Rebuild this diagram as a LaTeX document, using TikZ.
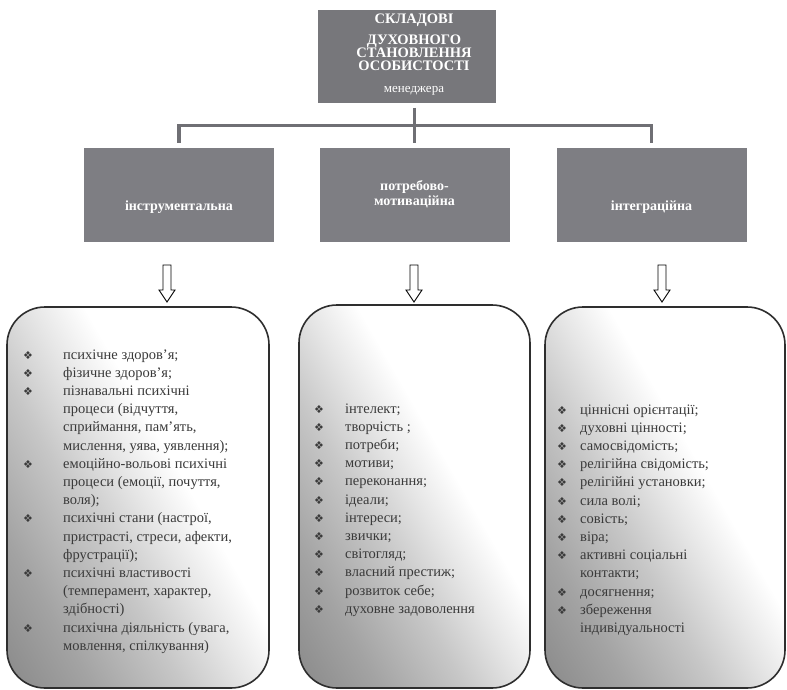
\documentclass[tikz,border=0pt]{standalone}
\usepackage{fontspec}
\setmainfont{Liberation Serif}
\newfontfamily\symfont{DejaVu Sans}
\usetikzlibrary{calc}
\definecolor{boxgray}{HTML}{7E7E83}
\definecolor{topgray}{HTML}{77777B}
\definecolor{conngray}{HTML}{6F6F74}
\definecolor{txtgray}{HTML}{3A3A3A}
\definecolor{bordergray}{HTML}{2E2E2E}
\pgfdeclarehorizontalshading{bshade}{100bp}{color(0bp)=(black!48); color(16bp)=(black!46); color(28bp)=(black!36); color(41bp)=(black!22); color(50bp)=(black!10); color(58bp)=(white); color(100bp)=(white)}
\newcommand{\bul}{{\symfont\fontsize{11}{11}\selectfont ❖}}
\newcommand{\itm}{\bul&}
\begin{document}
\begin{tikzpicture}[x=1pt,y=-1pt,
  topbox/.style={fill=topgray, draw=none, inner sep=0},
  midbox/.style={fill=boxgray, draw=none, inner sep=0, minimum width=190pt, minimum height=94pt},
  whitetxt/.style={text=white, inner sep=0, font=\fontsize{14.5}{13}\selectfont\bfseries, align=center},
  conn/.style={draw=conngray, line width=3.2pt},
  hollow/.style={draw=black, fill=white, line width=0.9pt, line join=miter},
  bbox/.style={draw=bordergray, line width=1.6pt, rounded corners=38pt, shade, shading=bshade, shading angle=30, inner sep=0},
  listtxt/.style={text=txtgray, inner sep=0, anchor=base west, font=\fontsize{14.5}{18.2}\selectfont}
]
\useasboundingbox (0,0) rectangle (787,690);
\fill[white] (0,0) rectangle (787,690);

% top box
\node[topbox, minimum width=178pt, minimum height=93pt] (top) at (407,56.5) {};
\node[whitetxt, anchor=base] (t1) at (414,24) {СКЛАДОВІ};
\node[whitetxt] (t2) at (414,53) {ДУХОВНОГО\\СТАНОВЛЕННЯ\\ОСОБИСТОСТІ};
\node[whitetxt, anchor=base, font=\fontsize{13}{13}\selectfont] (t5) at (414,93) {менеджера};

% middle boxes
\node[midbox] (m1) at (179,195) {};
\node[midbox] (m2) at (414.5,195) {};
\node[midbox] (m3) at (651.5,195) {};
\node[whitetxt, font=\fontsize{14}{15}\selectfont\bfseries] (m1t) at ($(m1.center)+(0,12)$) {інструментальна};
\node[whitetxt, font=\fontsize{14}{15}\selectfont\bfseries] (m2t) at ($(m2.center)+(0,-1)$) {потребово-\\мотиваційна};
\node[whitetxt, font=\fontsize{14}{15}\selectfont\bfseries] (m3t) at ($(m3.center)+(0,12)$) {інтеграційна};

% connectors
\draw[conn] ($(m2.north)+(0,-40)$) -- ($(m2.north)+(0,-5)$);
\draw[conn] ($(m1.north)+(0,-5)$) -- ($(m1.north)+(0,-22)$) -- ($(m3.north)+(0,-22)$) -- ($(m3.north)+(0,-5)$);

% bottom boxes
\node[bbox, minimum width=262pt, minimum height=381pt] (b1) at (138,497.5) {};
\node[bbox, minimum width=231pt, minimum height=383pt] (b2) at (414.5,496.5) {};
\node[bbox, minimum width=240pt, minimum height=381pt] (b3) at (665,497.5) {};

% hollow arrows
\coordinate (a1) at (167,265);
\coordinate (a2) at (414,265);
\coordinate (a3) at (662,265);
\foreach \a in {a1,a2,a3}{
  \draw[hollow] (\a) ++(-4,0) -- ++(0,25) -- ++(-4,0) -- ++(8,12) -- ++(8,-12) -- ++(-4,0) -- ++(0,-25) -- cycle;
}

% lists
\node[listtxt] (l1) at (23,359) {\begin{tabular}[t]{@{}p{40pt}@{}l@{}}
\itm психічне здоров’я;\\
\itm фізичне здоров’я;\\
\itm пізнавальні психічні\\
 & процеси (відчуття,\\
 & сприймання, пам’ять,\\
 & мислення, уява, уявлення);\\
\itm емоційно-вольові психічні\\
 & процеси (емоції, почуття,\\
 & воля);\\
\itm психічні стани (настрої,\\
 & пристрасті, стреси, афекти,\\
 & фрустрації);\\
\itm психічні властивості\\
 & (темперамент, характер,\\
 & здібності)\\
\itm психічна діяльність (увага,\\
 & мовлення, спілкування)
\end{tabular}};

\node[listtxt] (l2) at (314,413) {\begin{tabular}[t]{@{}p{31pt}@{}l@{}}
\itm інтелект;\\
\itm творчість ;\\
\itm потреби;\\
\itm мотиви;\\
\itm переконання;\\
\itm ідеали;\\
\itm інтереси;\\
\itm звички;\\
\itm світогляд;\\
\itm власний престиж;\\
\itm розвиток себе;\\
\itm духовне задоволення
\end{tabular}};

\node[listtxt] (l3) at (557,414) {\begin{tabular}[t]{@{}p{23pt}@{}l@{}}
\itm ціннісні орієнтації;\\
\itm духовні цінності;\\
\itm самосвідомість;\\
\itm релігійна свідомість;\\
\itm релігійні установки;\\
\itm сила волі;\\
\itm совість;\\
\itm віра;\\
\itm активні соціальні\\
 & контакти;\\
\itm досягнення;\\
\itm збереження\\
 & індивідуальності
\end{tabular}};
\end{tikzpicture}
\end{document}
